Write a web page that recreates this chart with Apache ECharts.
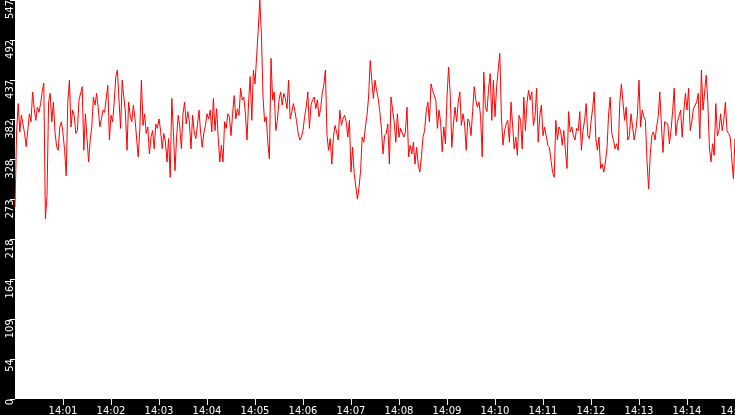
<!DOCTYPE html>
<html><head><meta charset="utf-8">
<script src="https://cdn.jsdelivr.net/npm/echarts@6/dist/echarts.min.js"></script>
<style>html,body{margin:0;padding:0;background:#000}#c{width:735px;height:415px}</style>
</head><body><div id="c"></div>
<script>
const startHour = 14;
const startMinute = 0;
const stepSeconds = 2;
const totalSeconds = 900;
const xTickMinutes = [1,2,3,4,5,6,7,8,9,10,11,12,13,14,15];
const yMax = 547;
const yStep = 54.7;
const values = [
263,366,405,366,389,377,364,346,346,391,380,421,398,382,400,393,405,421,433,247,
279,407,419,380,407,366,346,341,373,380,364,341,306,407,437,373,396,389,364,368,
410,412,428,341,391,357,325,355,373,414,403,419,400,373,384,396,393,412,430,355,
389,380,407,442,451,410,371,437,414,393,341,407,389,380,403,384,382,332,370,
437,375,391,364,373,336,359,368,343,377,371,384,368,343,364,352,325,357,304,412,
366,313,359,389,373,343,391,407,377,394,380,343,389,366,357,375,396,366,345,364,
375,391,384,396,366,412,368,398,359,325,348,325,380,371,391,387,361,391,416,384,
398,389,426,410,414,391,355,407,442,382,451,432,469,505,547,
500,414,380,387,352,329,467,410,421,368,382,410,421,403,419,412,398,437,384,394,
405,394,380,364,355,359,368,387,400,421,371,403,410,414,398,410,387,398,419,430,
451,361,341,357,322,359,375,366,355,396,375,384,389,380,359,382,311,345,309,309,
274,290,313,359,352,373,389,414,464,437,412,437,423,412,394,
371,336,361,364,377,322,414,396,380,352,391,359,371,373,359,366,400,332,348,336,
352,322,345,322,311,332,359,368,394,407,380,432,423,423,410,371,396,380,339,373,
350,414,455,419,345,377,400,380,407,421,375,391,377,341,384,380,361,394,428,410,
400,407,387,332,448,400,394,426,446,382,437,387,428,451,474,
387,348,368,377,382,352,407,407,343,359,334,389,382,343,414,368,407,423,410,421,
375,387,426,352,389,403,361,373,375,348,345,327,311,304,382,355,373,368,348,368,
341,316,394,366,373,361,355,371,368,394,341,368,382,405,361,357,380,398,421,357,
341,359,316,322,311,325,343,391,414,364,355,343,350,341,407,
432,407,382,400,355,361,391,373,355,368,389,437,373,396,387,382,327,288,334,361,
366,355,373,387,421,375,338,380,382,377,350,368,394,426,361,380,380,396,359,394,
419,396,426,368,380,398,398,407,419,357,451,396,398,444,407,345,325,350,334,405,
361,368,391,368,382,407,368,364,359,329,302,357
];

const pad = n => (n < 10 ? '0' : '') + n;
const font = { color: '#fff', fontFamily: 'DejaVu Sans', fontSize: 10 };
const chart = echarts.init(document.getElementById('c'));
chart.setOption({
  animation: false,
  backgroundColor: '#000',
  grid: { left: 15, right: 0, top: 0, bottom: 16, show: true, backgroundColor: '#fff', borderWidth: 0,
    containLabel: false, outerBoundsMode: 'none' },
  xAxis: {
    type: 'value', min: 0, max: totalSeconds,
    splitLine: { show: false },
    axisLine: { show: false },
    axisTick: { show: true, length: 6, lineStyle: { color: '#fff', width: 1 },
      customValues: xTickMinutes.map(m => m * 60) },
    axisLabel: Object.assign({}, font, {
      margin: 7, hideOverlap: false,
      customValues: xTickMinutes.map(m => m * 60),
      formatter: v => startHour + ':' + pad(startMinute + Math.round(v / 60))
    })
  },
  yAxis: {
    type: 'value', min: 0, max: yMax, interval: yStep,
    splitLine: { show: false },
    axisLine: { show: false },
    axisTick: { show: true, length: 5, lineStyle: { color: '#fff', width: 1 } },
    axisLabel: Object.assign({}, font, {
      rotate: 90, align: 'right', verticalAlign: 'bottom', margin: 0,
      showMinLabel: true, showMaxLabel: true, hideOverlap: false,
      formatter: v => String(Math.floor(v + 1e-6))
    })
  },
  series: [{
    type: 'line', showSymbol: false, symbol: 'none',
    lineStyle: { color: '#ff0000', width: 1 },
    data: values.map((v, i) => [i * stepSeconds, v])
  }]
});
</script></body></html>
